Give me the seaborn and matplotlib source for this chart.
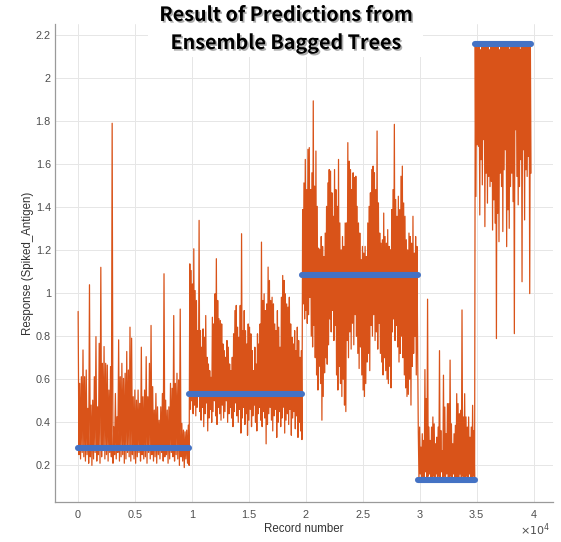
import numpy as np
import pandas as pd
import matplotlib
matplotlib.use("Agg")
import matplotlib.pyplot as plt
import matplotlib.patheffects as pe
from matplotlib.patches import Rectangle
import seaborn as sns

# ---------------- data ----------------
seg_bounds = [0, 9800, 19700, 29850, 34850, 39800]
true_values = [0.28, 0.53, 1.085, 0.13, 2.155]

# segment 1 (true 0.28)
pred_peaks_1 = [0.915, 0.581, 0.612, 0.736, 0.612, 0.643, 0.465, 1.039, 0.48, 0.503,
                0.612, 0.798, 0.472, 0.767, 1.12, 0.674, 0.752, 0.674, 0.666, 0.55,
                0.659, 1.789, 0.379, 0.534, 0.426, 0.783, 0.612, 0.674, 0.604, 0.628,
                0.729, 0.643, 0.842, 0.791, 0.519, 0.55, 0.503, 0.55, 0.488, 0.749,
                0.519, 0.55, 0.705, 0.519, 0.674, 0.85, 0.566, 0.457, 0.534, 0.472,
                0.41, 0.472, 0.534, 1.09, 0.503, 0.457, 0.472, 0.581, 0.558, 0.896,
                0.581, 0.628, 0.597, 0.926, 0.395, 0.364, 0.356, 0.364, 0.387]
pred_troughs_1 = [0.25, 0.23, 0.26, 0.24, 0.22, 0.25, 0.21, 0.24, 0.20, 0.23,
                  0.26, 0.22, 0.25, 0.21, 0.24, 0.27, 0.23, 0.25, 0.22, 0.26,
                  0.24, 0.21, 0.25, 0.23, 0.26, 0.22, 0.24, 0.25, 0.21, 0.23,
                  0.26, 0.24, 0.22, 0.25, 0.23, 0.21, 0.24, 0.26, 0.22, 0.25,
                  0.23, 0.24, 0.21, 0.26, 0.23, 0.25, 0.22, 0.24, 0.21, 0.25,
                  0.23, 0.26, 0.22, 0.24, 0.25, 0.21, 0.23, 0.26, 0.24, 0.22,
                  0.25, 0.23, 0.20, 0.24, 0.22, 0.19, 0.23, 0.21, 0.20]

# segment 2 (true 0.53)
pred_peaks_2 = [1.136, 1.105, 1.043, 1.206, 1.012, 0.966, 0.826, 1.338, 0.826, 0.749,
                0.834, 0.795, 0.896, 0.702, 0.671, 0.64, 0.609, 0.888, 0.857, 0.997,
                1.16, 0.966, 0.881, 0.873, 0.857, 0.764, 0.733, 0.702, 0.78, 0.749,
                0.671, 0.64, 0.702, 0.811, 0.919, 0.943, 0.842, 0.795, 0.943, 1.276,
                0.826, 0.919, 0.826, 0.764, 0.857, 0.842, 0.811, 0.733, 0.64, 0.749,
                0.671, 0.811, 0.764, 0.857, 1.237, 0.966, 0.997, 0.919, 0.95, 1.121,
                1.059, 0.966, 0.981, 0.95, 0.857, 0.826, 0.919, 0.842, 0.749, 0.981,
                1.082, 1.059, 0.997, 0.95, 0.935, 0.981, 0.857, 0.795, 0.764, 0.826,
                0.733, 0.842, 0.78, 0.702, 0.733]
pred_troughs_2 = [0.46, 0.50, 0.44, 0.48, 0.43, 0.47, 0.52, 0.45, 0.41, 0.47,
                  0.38, 0.44, 0.49, 0.36, 0.42, 0.46, 0.40, 0.45, 0.50, 0.43,
                  0.39, 0.47, 0.44, 0.41, 0.48, 0.42, 0.45, 0.50, 0.40, 0.44,
                  0.47, 0.42, 0.38, 0.45, 0.49, 0.43, 0.40, 0.46, 0.35, 0.42,
                  0.47, 0.39, 0.44, 0.34, 0.41, 0.46, 0.38, 0.43, 0.48, 0.40,
                  0.36, 0.44, 0.47, 0.41, 0.38, 0.45, 0.42, 0.30, 0.39, 0.44,
                  0.47, 0.41, 0.36, 0.43, 0.46, 0.33, 0.40, 0.45, 0.38, 0.42,
                  0.47, 0.35, 0.41, 0.44, 0.39, 0.46, 0.34, 0.42, 0.45, 0.37,
                  0.43, 0.33, 0.40, 0.36, 0.32]

# segment 3 (true 1.085)
pred_peaks_3 = [1.388, 1.512, 1.621, 1.481, 1.668, 1.676, 1.481, 1.559, 1.893, 1.497,
                1.66, 1.403, 1.209, 1.201, 1.263, 1.217, 1.17, 1.279, 1.403, 1.512,
                1.574, 1.567, 1.466, 1.357, 1.574, 1.481, 1.403, 1.621, 1.326, 1.201,
                1.263, 1.217, 1.326, 1.326, 1.699, 1.613, 1.574, 1.481, 1.559, 1.536,
                1.543, 1.403, 1.326, 1.279, 1.155, 1.217, 1.186, 1.217, 1.17, 1.326,
                1.403, 1.466, 1.574, 1.59, 1.559, 1.481, 1.753, 1.419, 1.279, 1.232,
                1.248, 1.372, 1.263, 1.232, 1.295, 1.217, 1.201, 1.388, 1.481, 1.784,
                1.435, 1.357, 1.45, 1.388, 1.543, 1.59, 1.419, 1.357, 1.248, 1.201,
                1.279, 1.263, 1.232, 1.357, 1.186, 1.263, 1.217]
pred_troughs_3 = [0.95, 0.88, 0.92, 0.86, 0.90, 0.98, 0.80, 0.75, 0.85, 0.70,
                  0.62, 0.55, 0.66, 0.58, 0.41, 0.52, 0.63, 0.70, 0.67, 0.76,
                  0.88, 0.82, 0.92, 0.78, 0.85, 0.62, 0.55, 0.66, 0.58, 0.52,
                  0.60, 0.48, 0.45, 0.78, 0.70, 0.82, 0.74, 0.86, 0.76, 0.90,
                  0.80, 0.72, 0.65, 0.75, 0.62, 0.55, 0.52, 0.58, 0.68, 0.72,
                  0.64, 0.85, 0.80, 0.90, 0.78, 0.82, 0.74, 0.86, 0.72, 0.68,
                  0.62, 0.70, 0.64, 0.60, 0.58, 0.66, 0.56, 0.82, 0.88, 0.78,
                  0.85, 0.75, 0.68, 0.72, 0.80, 0.70, 0.62, 0.56, 0.52, 0.53,
                  0.60, 0.48, 0.66, 0.72, 0.80, 0.62, 0.75]

# segment 4 (true 0.13)
pred_peaks_4 = [0.355, 0.378, 0.285, 0.347, 0.316, 0.645, 0.51, 0.972, 0.378, 0.316,
                0.378, 0.425, 0.393, 0.3, 0.331, 0.378, 0.733, 0.362, 0.269, 0.619,
                0.471, 0.347, 0.487, 0.487, 0.689, 0.393, 0.3, 0.347, 0.386, 0.533,
                0.487, 0.44, 0.456, 0.922, 0.425, 0.533, 0.425, 0.378, 0.425, 0.331,
                0.378, 0.479, 0.362]
pred_troughs_4 = [0.14, 0.16, 0.13, 0.15, 0.14, 0.17, 0.13, 0.15, 0.16, 0.14,
                  0.13, 0.15, 0.14, 0.16, 0.13, 0.15, 0.14, 0.17, 0.13, 0.15,
                  0.14, 0.16, 0.13, 0.14, 0.15, 0.13, 0.16, 0.14, 0.15, 0.13,
                  0.14, 0.16, 0.13, 0.15, 0.14, 0.13, 0.15, 0.14, 0.16, 0.13,
                  0.14, 0.15, 0.13]

# segment 5 (true 2.155)
pred_peaks_5 = [2.15, 2.14, 2.15, 2.15, 2.13, 2.15, 2.14, 2.15, 2.15, 2.14,
                2.15, 2.13, 2.15, 2.15, 2.14, 2.15, 2.15, 2.14, 2.15, 2.13,
                2.15, 2.15, 2.14, 2.15, 2.15, 2.14, 2.15, 2.13, 2.15, 2.15,
                2.14, 2.15, 2.15, 2.14, 2.15, 2.13, 2.15, 2.15, 2.14, 2.15,
                2.15, 2.14, 2.15, 2.15]
pred_troughs_5 = [1.449, 1.689, 1.682, 1.363, 1.62, 1.503, 1.713, 1.309, 1.557, 1.418,
                  1.542, 1.495, 1.519, 1.293, 1.433, 1.325, 0.789, 1.371, 1.239, 1.557,
                  1.495, 1.286, 1.573, 1.666, 1.216, 1.387, 1.301, 1.495, 1.557, 1.425,
                  0.812, 1.759, 1.542, 1.41, 1.495, 1.62, 1.053, 1.666, 1.34, 1.573,
                  1.542, 1.635, 0.998, 1.557]

x_tick_values = [0, 5000, 10000, 15000, 20000, 25000, 30000, 35000, 40000]
x_tick_labels = ["0", "0.5", "1", "1.5", "2", "2.5", "3", "3.5", "4"]
y_tick_values = [0.2, 0.4, 0.6, 0.8, 1.0, 1.2, 1.4, 1.6, 1.8, 2.0, 2.2]
y_tick_labels = ["0.2", "0.4", "0.6", "0.8", "1", "1.2", "1.4", "1.6", "1.8", "2", "2.2"]

title_text = "Result of Predictions from\nEnsemble Bagged Trees"
x_label = "Record number"
y_label = "Response (Spiked_Antigen)"

# ---------------- build tables ----------------
peaks = [pred_peaks_1, pred_peaks_2, pred_peaks_3, pred_peaks_4, pred_peaks_5]
troughs = [pred_troughs_1, pred_troughs_2, pred_troughs_3, pred_troughs_4, pred_troughs_5]

pred_rows = []
for i, (pk, tr) in enumerate(zip(peaks, troughs)):
    vals = []
    for p, t in zip(pk, tr):
        vals.extend([p, t])
    xs = np.linspace(seg_bounds[i] + 30, seg_bounds[i + 1] - 30, len(vals))
    for xv, yv in zip(xs, vals):
        pred_rows.append((xv, yv))
df_pred = pd.DataFrame(pred_rows, columns=["rec", "pred"])

true_rows = []
for i, tv in enumerate(true_values):
    true_rows.append((i, seg_bounds[i], tv))
    true_rows.append((i, seg_bounds[i + 1], tv))
df_true = pd.DataFrame(true_rows, columns=["seg", "rec", "resp"])

# ---------------- plot ----------------
sns.set_theme(style="whitegrid")
plt.rcParams["font.family"] = ["Liberation Sans", "DejaVu Sans"]

ORANGE = "#d95319"
BLUE = "#4472c4"
GRAY = "#4d4d4d"
SPINE = "#9a9a9a"

fig = plt.figure(figsize=(5.61, 5.42), dpi=100)
ax = fig.add_axes([55 / 561, 1 - 502 / 542, (553 - 55) / 561, (502 - 24) / 542])
ax.set_facecolor("white")

sns.lineplot(data=df_pred, x="rec", y="pred", estimator=None, sort=False,
             color=ORANGE, linewidth=0.9, ax=ax, zorder=2)
sns.lineplot(data=df_true, x="rec", y="resp", units="seg", estimator=None, sort=False,
             color=BLUE, linewidth=4.4, solid_capstyle="round", ax=ax, zorder=3)

ax.set_xlim(-2000, 41700)
ax.set_ylim(0.03, 2.25)
ax.set_xticks(x_tick_values)
ax.set_xticklabels(x_tick_labels)
ax.set_yticks(y_tick_values)
ax.set_yticklabels(y_tick_labels)

ax.grid(True, color="#e6e6e6", linewidth=0.7)
for s in ["top", "right"]:
    ax.spines[s].set_visible(False)
for s in ["left", "bottom"]:
    ax.spines[s].set_visible(True)
    ax.spines[s].set_color(SPINE)
    ax.spines[s].set_linewidth(0.9)

ax.tick_params(axis="both", direction="in", length=4, width=0.7, color=SPINE,
               labelsize=7.8, labelcolor=GRAY)
ax.tick_params(axis="y", pad=3)
ax.tick_params(axis="x", pad=6)

ax.set_xlabel(x_label, fontsize=8.3, color="#333333", labelpad=2)
ax.set_ylabel(y_label, fontsize=8.3, color="#333333", labelpad=1)

ax.text(0.995, -0.058, r"$\times10^{4}$", transform=ax.transAxes, ha="right", va="center",
        fontsize=8, color=GRAY)

# white panel behind the title (covers the grid, as in the reference)
fig.add_artist(Rectangle((148 / 561, 1 - 57 / 542), 275 / 561, 57 / 542,
                         transform=fig.transFigure, facecolor="white", edgecolor="none",
                         zorder=2.5))
fig.text(286 / 561, 1 - 6 / 542, title_text, ha="center", va="top", multialignment="center",
         fontsize=14.2, fontweight="bold", family=["Noto Sans CJK KR", "DejaVu Sans"],
         color="black", linespacing=1.6, zorder=3,
         path_effects=[pe.withSimplePatchShadow(offset=(1.2, -1.2), shadow_rgbFace="#777777", alpha=0.6)])

fig.savefig("out.png", dpi=100, facecolor="white")
